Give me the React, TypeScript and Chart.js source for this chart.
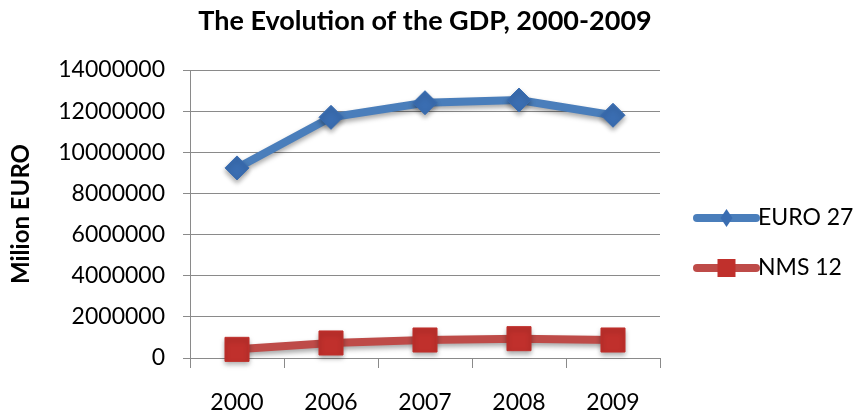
import React, { useEffect, useRef } from 'react';
import { Chart, registerables } from 'chart.js';

Chart.register(...registerables);

// ---- data ----
const categories = ['2000', '2006', '2007', '2008', '2009'];
const euro27 = [9240000, 11700000, 12410000, 12540000, 11800000];
const nms12 = [420000, 730000, 875000, 940000, 875000];
const seriesNames = ['EURO 27', 'NMS 12'];
const titleText = 'The Evolution of the GDP, 2000-2009';
const yAxisTitle = 'Milion EURO';
const yMin = 0;
const yMax = 14000000;
const yStep = 2000000;

const FONT = 'Lato, "Open Sans", sans-serif';
const BLUE_LINE = '#4a7ebb';
const BLUE_MARK = '#3a6db1';
const RED_LINE = '#be4b48';
const RED_MARK = '#c0302c';
const GRID = '#8a8a8a';

const shadowPlugin = {
  id: 'markerShadow',
  beforeDatasetDraw(chart: any) {
    const ctx = chart.ctx;
    ctx.save();
    ctx.shadowColor = 'rgba(0,0,0,0.35)';
    ctx.shadowBlur = 5;
    ctx.shadowOffsetY = 3;
  },
  afterDatasetDraw(chart: any) {
    chart.ctx.restore();
  },
};

const titlePlugin = {
  id: 'centeredTitle',
  afterDraw(chart: any) {
    const ctx = chart.ctx;
    ctx.save();
    ctx.fillStyle = '#000';
    ctx.font = `bold 27px ${FONT}`;
    ctx.textAlign = 'center';
    ctx.textBaseline = 'middle';
    ctx.fillText(titleText, 425, 21);
    ctx.restore();
  },
};

const legendPlugin = {
  id: 'lineLegend',
  afterDraw(chart: any) {
    const ctx = chart.ctx;
    const items = [
      { label: seriesNames[0], line: BLUE_LINE, mark: BLUE_MARK, shape: 'diamond', y: 218 },
      { label: seriesNames[1], line: RED_LINE, mark: RED_MARK, shape: 'square', y: 268 },
    ];
    ctx.save();
    items.forEach((it) => {
      const x0 = 697;
      const x1 = 756;
      const cx = (x0 + x1) / 2;
      ctx.strokeStyle = it.line;
      ctx.lineWidth = 8;
      ctx.lineCap = 'round';
      ctx.beginPath();
      ctx.moveTo(x0, it.y);
      ctx.lineTo(x1, it.y);
      ctx.stroke();
      ctx.fillStyle = it.mark;
      ctx.beginPath();
      if (it.shape === 'diamond') {
        ctx.moveTo(cx, it.y - 9);
        ctx.lineTo(cx + 6, it.y);
        ctx.lineTo(cx, it.y + 9);
        ctx.lineTo(cx - 6, it.y);
        ctx.closePath();
      } else {
        ctx.rect(cx - 9, it.y - 9, 18, 18);
      }
      ctx.fill();
      ctx.fillStyle = '#000';
      ctx.font = `23px ${FONT}`;
      ctx.textAlign = 'left';
      ctx.textBaseline = 'middle';
      ctx.fillText(it.label, 758, it.y);
    });
    ctx.restore();
  },
};

export default function App() {
  const ref = useRef<HTMLCanvasElement | null>(null);

  useEffect(() => {
    if (!ref.current) return;
    const chart = new Chart(ref.current, {
      type: 'line',
      data: {
        labels: categories,
        datasets: [
          {
            label: seriesNames[0],
            data: euro27,
            borderColor: BLUE_LINE,
            backgroundColor: BLUE_MARK,
            borderWidth: 8,
            pointStyle: 'rectRot',
            pointRadius: 12,
            pointBackgroundColor: BLUE_MARK,
            pointBorderColor: BLUE_MARK,
            pointBorderWidth: 1,
            tension: 0,
            clip: false,
          } as any,
          {
            label: seriesNames[1],
            data: nms12,
            borderColor: RED_LINE,
            backgroundColor: RED_MARK,
            borderWidth: 8,
            pointStyle: 'rect',
            pointRadius: 17,
            pointBackgroundColor: RED_MARK,
            pointBorderColor: RED_MARK,
            pointBorderWidth: 1,
            tension: 0,
            clip: false,
          } as any,
        ],
      },
      options: {
        responsive: false,
        animation: false,
        layout: { padding: { left: 0, top: 70, right: 193, bottom: 0 } },
        plugins: {
          legend: { display: false },
          tooltip: { enabled: false },
          title: { display: false },
        },
        scales: {
          x: {
            type: 'category',
            offset: true,
            grid: {
              display: true,
              drawOnChartArea: false,
              drawTicks: true,
              tickLength: 10,
              color: GRID,
              offset: true,
            },
            border: { display: true, color: GRID, width: 1 },
            ticks: {
              color: '#000',
              font: { family: FONT, size: 23 },
              padding: 21,
              maxRotation: 0,
            },
            afterFit: (scale: any) => {
              scale.height = 59;
            },
          },
          y: {
            min: yMin,
            max: yMax,
            grid: {
              color: GRID,
              tickLength: 7,
              drawTicks: true,
            },
            border: { display: true, color: GRID, width: 1 },
            ticks: {
              stepSize: yStep,
              color: '#000',
              font: { family: FONT, size: 23 },
              padding: 18,
              callback: (v: any) => String(v),
            },
            title: {
              display: true,
              text: yAxisTitle,
              color: '#000',
              font: { family: FONT, size: 24, weight: 'bold' },
              padding: { top: 7, bottom: 0 },
            },
            afterFit: (scale: any) => {
              scale.width = 190;
            },
          },
        },
      },
      plugins: [shadowPlugin, titlePlugin, legendPlugin],
    } as any);
    return () => chart.destroy();
  }, []);

  return (
    <div style={{ position: 'absolute', left: 0, top: 0, width: 853, height: 417, background: '#fff' }}>
      <canvas ref={ref} width={853} height={417} style={{ display: 'block' }} />
    </div>
  );
}
